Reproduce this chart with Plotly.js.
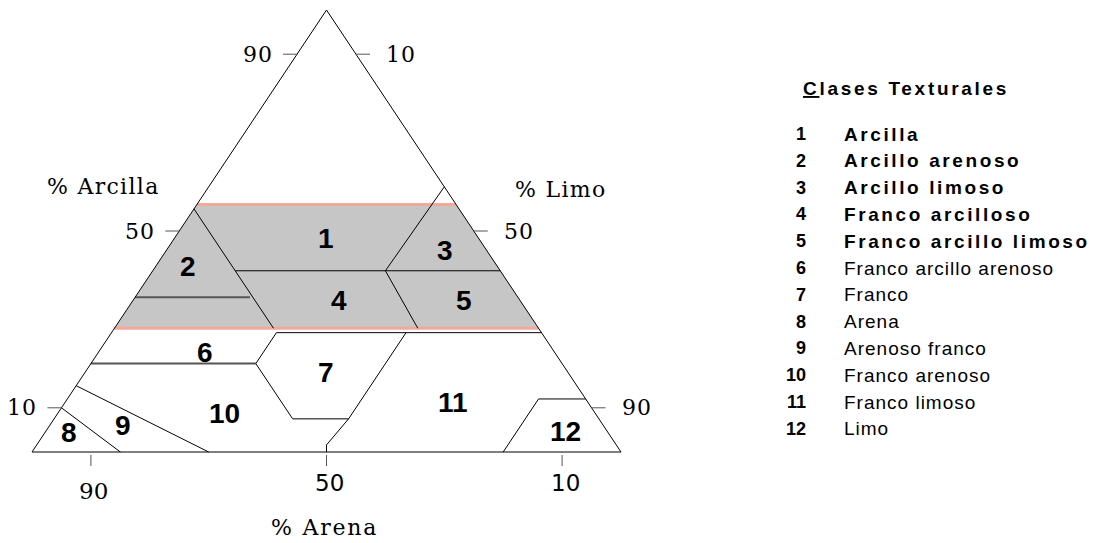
<!DOCTYPE html>
<html>
<head>
<meta charset="utf-8">
<script src="https://cdn.plot.ly/plotly-3.0.1.min.js"></script>
<style>html,body{margin:0;padding:0;background:#fff;}</style>
</head>
<body>
<div id="chart" style="width:1095px;height:543px;"></div>
<script>
// ================= DATA =================
// Textural classes (legend)
const classNumbers = [1, 2, 3, 4, 5, 6, 7, 8, 9, 10, 11, 12];
const classNames = ["Arcilla", "Arcillo arenoso", "Arcillo limoso", "Franco arcilloso",
  "Franco arcillo limoso", "Franco arcillo arenoso", "Franco", "Arena",
  "Arenoso franco", "Franco arenoso", "Franco limoso", "Limo"];
const classBold = [true, true, true, true, true, false, false, false, false, false, false, false];
const legendTitle = "Clases Texturales";

// Axis titles and tick values
const clayTitle = "% Arcilla";
const siltTitle = "% Limo";
const sandTitle = "% Arena";
const clayTicks = [90, 50, 10];
const siltTicks = [10, 50, 90];
const sandTicks = [90, 50, 10];

// Triangle outline (% sand, % clay)
const outlineSand = [100, 0, 0, 100];
const outlineClay = [0, 0, 100, 0];

// Shaded band of fine-textured classes (% clay range)
const bandClay = [28, 56];

// Class boundaries (% sand, % clay)
const b8_9Sand = [90, 85];            const b8_9Clay = [10, 0];
const b9_10Sand = [85, 70];           const b9_10Clay = [15, 0];
const b6_10Sand = [80, 52];           const b6_10Clay = [20, 20];
const b6_7Sand = [52, 45];            const b6_7Clay = [20, 27];
const b7_10Sand = [52, 52, 42.5];     const b7_10Clay = [20, 7.5, 7.5];
const b11Sand = [50, 49.2, 42.5, 23]; const b11Clay = [0, 1.6, 7.5, 27];
const b27Sand = [45, 0];              const b27Clay = [27, 27];
const b12Sand = [20, 8, 0];           const b12Clay = [0, 12, 12];
const b2Sand = [45, 45];              const b2Clay = [55, 28];
const b2inSand = [65, 45.5];          const b2inClay = [35, 35];
const b1_4Sand = [45, 0];             const b1_4Clay = [41, 41];
const b3Sand = [0, 19.5, 20.5];       const b3Clay = [60, 41, 28];

// ================= GEOMETRY / LAYOUT =================
const W = 1095, H = 543;
const OX = 32, OY = 452;      // pixel of (X=0, clay=0)
const SX = 5.89, SY = 4.42;   // pixels per unit
const toX = (sand, clay) => 100 - sand - clay / 2;
const pxX = px => (px - OX) / SX;
const pxY = py => (OY - py) / SY;

function lineTrace(sand, clay, color, width) {
  return {
    type: 'scatter', mode: 'lines',
    x: sand.map((s, i) => toX(s, clay[i])), y: clay.slice(),
    line: { color: color, width: width }, hoverinfo: 'skip', showlegend: false
  };
}

const traces = [];
// shaded band
const bandSand = [100 - bandClay[0], 0, 0, 100 - bandClay[1], 100 - bandClay[0]];
const bandY = [bandClay[0], bandClay[0], bandClay[1], bandClay[1], bandClay[0]];
traces.push({
  type: 'scatter', mode: 'lines', x: bandSand.map((s, i) => toX(s, bandY[i])), y: bandY,
  fill: 'toself', fillcolor: '#c6c6c6', line: { width: 0, color: 'rgba(0,0,0,0)' },
  hoverinfo: 'skip', showlegend: false
});
// pink borders of the band
bandClay.forEach(c => traces.push(lineTrace([100 - c, 0], [c, c], '#f3a999', 3)));

// boundaries
const black = '#000';
traces.push(lineTrace(b8_9Sand, b8_9Clay, black, 1));
traces.push(lineTrace(b9_10Sand, b9_10Clay, black, 1));
traces.push(lineTrace(b6_10Sand, b6_10Clay, '#555', 2));
traces.push(lineTrace(b6_7Sand, b6_7Clay, black, 1));
traces.push(lineTrace(b7_10Sand, b7_10Clay, black, 1));
traces.push(lineTrace(b11Sand, b11Clay, black, 1));
traces.push(lineTrace(b27Sand, b27Clay, black, 1));
traces.push(lineTrace(b12Sand, b12Clay, black, 1));
traces.push(lineTrace(b2Sand, b2Clay, black, 1));
traces.push(lineTrace(b2inSand, b2inClay, '#555', 2));
traces.push(lineTrace(b1_4Sand, b1_4Clay, black, 1));
traces.push(lineTrace(b3Sand, b3Clay, black, 1));
traces.push(lineTrace(outlineSand, outlineClay, black, 1));

// tick marks
const TL = 14 / SX;       // tick length (horizontal), data units
const TV = 11 / SY;       // tick length (vertical)
const tickColor = '#555';
clayTicks.forEach(c => {
  const xe = toX(100 - c, c);
  traces.push({ type: 'scatter', mode: 'lines', x: [xe - TL, xe], y: [c, c],
    line: { color: tickColor, width: 1 }, hoverinfo: 'skip', showlegend: false });
});
siltTicks.forEach(s => {
  const c = 100 - s, xe = toX(0, c);
  traces.push({ type: 'scatter', mode: 'lines', x: [xe, xe + TL], y: [c, c],
    line: { color: tickColor, width: 1 }, hoverinfo: 'skip', showlegend: false });
});
sandTicks.forEach(s => {
  const xe = toX(s, 0);
  traces.push({ type: 'scatter', mode: 'lines', x: [xe, xe], y: [-3 / SY, -3 / SY - TV],
    line: { color: tickColor, width: 1 }, hoverinfo: 'skip', showlegend: false });
});

// ================= ANNOTATIONS =================
const SERIF = 'DejaVu Serif, serif';
const SANS = 'Liberation Sans, Arial, sans-serif';
const DSANS = 'DejaVu Sans, sans-serif';
const annotations = [];
const spacing = [];
function ann(o, ls) {
  annotations.push(Object.assign({ xref: 'x', yref: 'y', showarrow: false }, o));
  spacing.push(ls || 0);
}

// class number labels inside the triangle (data coordinates X, clay)
const labelPos = [[49.9, 48.4], [26.5, 41.9], [70.1, 45.7], [52.1, 34.2], [73.3, 34.2],
  [29.4, 22.4], [49.9, 18.1], [6.3, 4.5], [15.5, 6.1], [32.6, 8.6], [71.5, 11.3], [90.5, 4.75]];
classNumbers.forEach((n, i) => ann({ text: String(n), x: labelPos[i][0], y: labelPos[i][1],
  xanchor: 'center', yanchor: 'middle', font: { family: SANS, size: 28, weight: 700, color: '#000' } }));

// tick labels
clayTicks.forEach(c => ann({ text: String(c), x: toX(100 - c, c), y: c, xanchor: 'right', yanchor: 'middle',
  xshift: -23, font: { family: SERIF, size: 22, color: '#000' } }, 1.0));
siltTicks.forEach(s => ann({ text: String(s), x: toX(0, 100 - s), y: 100 - s, xanchor: 'left', yanchor: 'middle',
  xshift: 28, align: 'left', font: { family: SERIF, size: 22, color: '#000' } }, 1.0));
const bottomFont = [SERIF, DSANS, DSANS];
const bottomShift = [-39, -31, -31];
sandTicks.forEach((s, i) => ann({ text: String(s), x: toX(s, 0), y: 0, xanchor: 'center', yanchor: 'middle',
  xshift: 3, yshift: bottomShift[i], font: { family: bottomFont[i], size: 23, color: '#000' } }));

// axis titles
ann({ text: clayTitle, x: pxX(45), y: pxY(186), xanchor: 'left', yanchor: 'middle', align: 'left',
  font: { family: SERIF, size: 22, color: '#000' } }, 1.3);
ann({ text: siltTitle, x: pxX(513), y: pxY(189), xanchor: 'left', yanchor: 'middle', align: 'left',
  font: { family: SERIF, size: 22, color: '#000' } }, 1.3);
ann({ text: sandTitle, x: pxX(269), y: pxY(527), xanchor: 'left', yanchor: 'middle', align: 'left',
  font: { family: SERIF, size: 22, color: '#000' } }, 1.8);

// legend block
ann({ text: '<span style="text-decoration:underline">' + legendTitle[0] + '</span>' + legendTitle.slice(1),
  x: pxX(801), y: pxY(88), xanchor: 'left', yanchor: 'middle', align: 'left',
  font: { family: SANS, size: 19, weight: 700, color: '#000' } }, 2.7);
classNumbers.forEach((n, i) => {
  const py = 134 + 26.8 * i;
  ann({ text: String(n), x: pxX(808), y: pxY(py), xanchor: 'right', yanchor: 'middle', align: 'right',
    font: { family: SANS, size: 18, weight: 700, color: '#000' } });
  ann({ text: classNames[i], x: pxX(842), y: pxY(py), xanchor: 'left', yanchor: 'middle', align: 'left',
    font: { family: SANS, size: 19, weight: classBold[i] ? 700 : 400, color: '#000' } }, classBold[i] ? 2.6 : 1.0);
});

const layout = {
  width: W, height: H,
  margin: { l: 0, r: 0, t: 0, b: 0, pad: 0 },
  paper_bgcolor: '#fff', plot_bgcolor: '#fff',
  showlegend: false,
  xaxis: { range: [pxX(0), pxX(W)], visible: false, fixedrange: true },
  yaxis: { range: [pxY(H), pxY(0)], visible: false, fixedrange: true },
  annotations: annotations
};

Plotly.newPlot('chart', traces, layout, { staticPlot: true, displayModeBar: false }).then(gd => {
  document.querySelectorAll('#chart g.annotation').forEach(g => {
    const idx = +g.getAttribute('data-index');
    const ls = spacing[idx];
    if (ls) {
      g.querySelectorAll('text').forEach(t => { t.style.letterSpacing = ls + 'px'; });
    }
  });
});
</script>
</body>
</html>
